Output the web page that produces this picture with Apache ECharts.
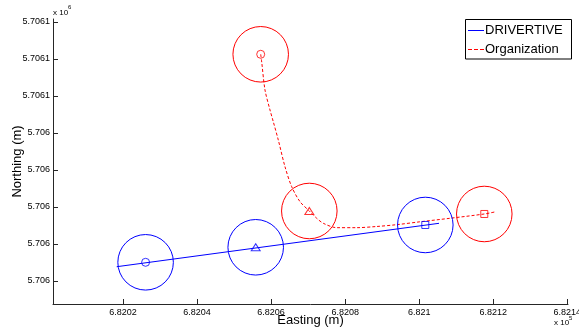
<!DOCTYPE html>
<html>
<head>
<meta charset="utf-8">
<style>
  html, body { margin: 0; padding: 0; background: #fff; }
  #chart { width: 579px; height: 332px; }
</style>
<script src="https://cdn.jsdelivr.net/npm/echarts@6/dist/echarts.min.js"></script>
</head>
<body>
<div id="chart"></div>
<script>
// Position fixes (UTM, metres) with their uncertainty radius.
const fixRadius = 7.5;

// DRIVERTIVE: straight track plus three fixes (circle, triangle, square)
const driverTrack = [[682018.3, 5706003.86], [682105.35, 5706015.59]];
const driverFixes = [[682026.10, 5706005.05], [682055.84, 5706009.11], [682101.65, 5706015.14]];

// Organization: curved track plus three fixes
const orgTrack = [
  [682057.19, 5706061.27], [682057.46, 5706059.19], [682058.35, 5706051.62],
  [682059.70, 5706046.22], [682060.59, 5706043.05], [682061.94, 5706038.11],
  [682063.75, 5706030.89], [682065.56, 5706025.49], [682067.81, 5706021.43],
  [682070.32, 5706018.92], [682072.32, 5706016.95], [682074.10, 5706015.59],
  [682077.72, 5706014.41], [682083.12, 5706014.41], [682088.52, 5706014.73],
  [682093.92, 5706015.22], [682100.22, 5706016.00], [682108.32, 5706016.95],
  [682117.58, 5706018.11], [682120.74, 5706018.73]
];
const orgFixes = [[682057.19, 5706061.27], [682070.32, 5706018.92], [682117.58, 5706018.11]];

// Axis ticks and their labels (scaled by 1e5 / 1e6)
const xTickValues = [682020, 682040, 682060, 682080, 682100, 682120, 682140];
const xTickLabels = ['6.8202', '6.8204', '6.8206', '6.8208', '6.821', '6.8212', '6.8214'];
const yTickValues = [5706000, 5706010, 5706020, 5706030, 5706040, 5706050, 5706060, 5706070];
const yTickLabels = ['5.706', '5.706', '5.706', '5.706', '5.706', '5.7061', '5.7061', '5.7061'];

const seriesNames = ['DRIVERTIVE', 'Organization'];

const BLUE = '#0000ff';
const RED = '#ff0000';
const AXIS = '#262626';
const FONT = 'Liberation Sans, Arial, sans-serif';
const DASH = [3, 2];
const fixSymbols = ['circle', 'triangle', 'rect'];
const fixSizes = [8, [9, 7], 7];

function labelFor(values, labels) {
  return function (v) {
    for (let i = 0; i < values.length; i++) {
      if (Math.abs(values[i] - v) < 1e-6) return labels[i];
    }
    return '';
  };
}

function fixMarkers(name, points, color) {
  return {
    name: name,
    type: 'scatter',
    silent: true,
    z: 4,
    data: points.map((p, i) => ({
      value: p,
      symbol: fixSymbols[i],
      symbolSize: fixSizes[i]
    })),
    itemStyle: { color: 'rgba(0,0,0,0)', borderColor: color, borderWidth: 1 }
  };
}

function fixCircles(name, points, color) {
  return {
    name: name,
    type: 'custom',
    silent: true,
    z: 3,
    data: points.map(p => [p[0], p[1], fixRadius]),
    renderItem: function (params, api) {
      const c = api.coord([api.value(0), api.value(1)]);
      const r = api.size([api.value(2), api.value(2)]);
      return {
        type: 'circle',
        shape: { cx: c[0], cy: c[1], r: r[0] },
        style: { fill: 'none', stroke: color, lineWidth: 1 }
      };
    }
  };
}

// Boxed legend in the upper-right corner: line key + series name per row
function legendBox() {
  const rows = [
    { name: seriesNames[0], color: BLUE, dash: null, y: 30.5 },
    { name: seriesNames[1], color: RED, dash: [4, 2], y: 49.5 }
  ];
  const children = [{
    type: 'rect',
    shape: { x: 465.5, y: 19.5, width: 106, height: 39.5 },
    style: { fill: '#fff', stroke: '#000', lineWidth: 1 }
  }];
  rows.forEach(r => {
    children.push({
      type: 'line',
      shape: { x1: 468, y1: r.y, x2: 484, y2: r.y },
      style: { stroke: r.color, lineWidth: 1, lineDash: r.dash }
    });
    children.push({
      type: 'text',
      style: {
        x: 485, y: r.y - 0.5, text: r.name, fontSize: 13, fontFamily: FONT,
        fill: '#000', verticalAlign: 'middle', align: 'left'
      }
    });
  });
  return { type: 'group', z: 10, children: children };
}

const chart = echarts.init(document.getElementById('chart'), null, { renderer: 'canvas' });

chart.setOption({
  animation: false,
  backgroundColor: '#fff',
  textStyle: { fontFamily: FONT },
  grid: { left: 53, right: 11, top: 19, bottom: 28, containLabel: false, outerBoundsMode: 'none' },
  xAxis: {
    type: 'value',
    min: 682001.09,
    max: 682140.19,
    name: 'Easting (m)',
    nameLocation: 'middle',
    nameGap: 10,
    nameMoveOverlap: false,
    nameTextStyle: { fontSize: 13, color: '#000', fontFamily: FONT },
    axisLine: { onZero: false, lineStyle: { color: AXIS, width: 1 } },
    axisTick: { inside: true, length: 5, customValues: xTickValues, lineStyle: { color: AXIS } },
    axisLabel: {
      customValues: xTickValues,
      formatter: labelFor(xTickValues, xTickLabels),
      fontSize: 9, color: '#000', margin: 4, fontFamily: FONT
    },
    splitLine: { show: false }
  },
  yAxis: {
    type: 'value',
    min: 5705993.78,
    max: 5706070.81,
    name: 'Northing (m)',
    nameLocation: 'middle',
    nameGap: 29,
    nameMoveOverlap: false,
    nameTextStyle: { fontSize: 13, color: '#000', fontFamily: FONT },
    axisLine: { onZero: false, lineStyle: { color: AXIS, width: 1 } },
    axisTick: { inside: true, length: 5, customValues: yTickValues, lineStyle: { color: AXIS } },
    axisLabel: {
      customValues: yTickValues,
      formatter: labelFor(yTickValues, yTickLabels),
      fontSize: 9, color: '#000', margin: 3, fontFamily: FONT
    },
    splitLine: { show: false }
  },
  graphic: [
    legendBox(),
    { type: 'text', left: 53, top: 9, style: { text: 'x 10', fontSize: 8, fill: '#000', fontFamily: FONT } },
    { type: 'text', left: 68, top: 4, style: { text: '6', fontSize: 6, fill: '#000', fontFamily: FONT } },
    { type: 'text', left: 554, top: 319, style: { text: 'x 10', fontSize: 8, fill: '#000', fontFamily: FONT } },
    { type: 'text', left: 569, top: 315, style: { text: '5', fontSize: 6, fill: '#000', fontFamily: FONT } }
  ],
  series: [
    {
      name: seriesNames[0],
      type: 'line',
      symbol: 'none',
      silent: true,
      z: 2,
      data: driverTrack,
      lineStyle: { color: BLUE, width: 1 },
      itemStyle: { color: BLUE }
    },
    {
      name: seriesNames[1],
      type: 'line',
      symbol: 'none',
      silent: true,
      smooth: 0.3,
      z: 2,
      data: orgTrack,
      lineStyle: { color: RED, width: 1, type: DASH },
      itemStyle: { color: RED }
    },
    fixCircles('driver-radius', driverFixes, BLUE),
    fixCircles('org-radius', orgFixes, RED),
    fixMarkers('driver-fix', driverFixes, BLUE),
    fixMarkers('org-fix', orgFixes, RED)
  ]
});
</script>
</body>
</html>
